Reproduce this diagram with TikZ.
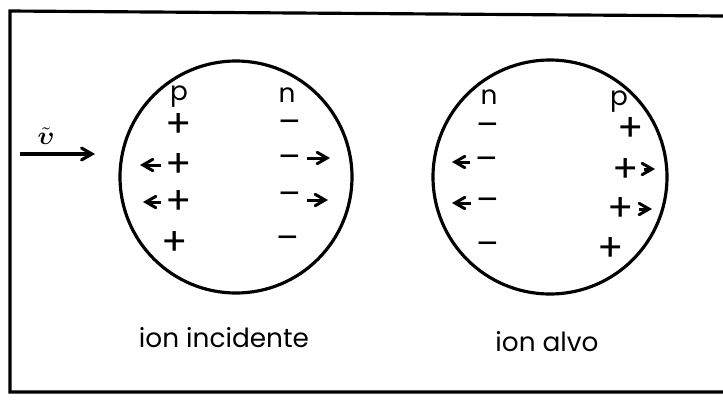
\documentclass[tikz,border=0pt]{standalone}
\usepackage{amsmath}
\usepackage{fontspec}
\setmainfont{Poppins}
\usetikzlibrary{arrows}

\begin{document}
\begin{tikzpicture}[x=0.02cm,y=-0.02cm,line width=1.8pt,>=angle 60,
    charge/.style={inner sep=0pt,font=\fontsize{22}{24}\selectfont},
    minus/.style={inner sep=0pt,font=\fontsize{19}{21}\selectfont},
    letter/.style={inner sep=1pt,font=\fontsize{15}{17}\selectfont},
    kick/.style={->,line width=1.7pt}]
        \useasboundingbox (0,0) rectangle (723,400);
        \draw (723,16) -- (10,11) -- (10,392) -- (723,392);
        % ion incidente
        \draw (236,177) circle (116);
        \node[letter] (pa) at (179,97) {p};
        \node[letter] (na) at (287,95) {n};
        \node[charge] (pa1) at (179,125) {+};
        \node[charge] (pa2) at (179,165) {+};
        \node[charge] (pa3) at (179,202) {+};
        \node[charge] (pa4) at (175,243) {+};
        \node[minus] (na1) at (290,127) {–};
        \node[minus] (na2) at (290,162) {–};
        \node[minus] (na3) at (290,199) {–};
        \node[minus] (na4) at (288,243) {–};
        \coordinate (ea2) at (140,165);
        \coordinate (ea3) at (143,202);
        \coordinate (fa2) at (330,158);
        \coordinate (fa3) at (328,200);
        \draw[kick] (pa2.west |- ea2) ++(-3,0) -- (ea2);
        \draw[kick] (pa3.west |- ea3) ++(-3,0) -- (ea3);
        \draw[kick] (na2.east |- fa2) ++(4,0) -- (fa2);
        \draw[kick] (na3.east |- fa3) ++(4,0) -- (fa3);
        % ion alvo
        \draw (550,177) circle (117);
        \node[letter] (nb) at (489,97) {n};
        \node[letter] (pb) at (619,102) {p};
        \node[minus] (nb1) at (488,130) {–};
        \node[minus] (nb2) at (487,164) {–};
        \node[minus] (nb3) at (488,205) {–};
        \node[minus] (nb4) at (488,249) {–};
        \node[charge] (pb1) at (631,129) {+};
        \node[charge] (pb2) at (626,170) {+};
        \node[charge] (pb3) at (621,209) {+};
        \node[charge] (pb4) at (611,249) {+};
        \coordinate (eb2) at (452,162);
        \coordinate (eb3) at (452,203);
        \coordinate (fb2) at (655,169);
        \coordinate (fb3) at (652,209);
        \draw[kick] (nb2.west |- eb2) ++(-4,0) -- (eb2);
        \draw[kick] (nb3.west |- eb3) ++(-4,0) -- (eb3);
        \draw[kick] (pb2.east |- fb2) ++(3,0) -- (fb2);
        \draw[kick] (pb3.east |- fb3) ++(3,0) -- (fb3);
        % velocidade
        \coordinate (vs) at (20,154);
        \coordinate (ve) at (95,154);
        \draw[->] (vs) -- (ve);
        \node[letter] (vl) at (46,136) {$\tilde{\boldsymbol{\upsilon}}$};
        \node[letter] (lbla) at (224,338) {ion incidente};
        \node[letter] (lblb) at (547,342) {ion alvo};
    \end{tikzpicture}
\end{document}
